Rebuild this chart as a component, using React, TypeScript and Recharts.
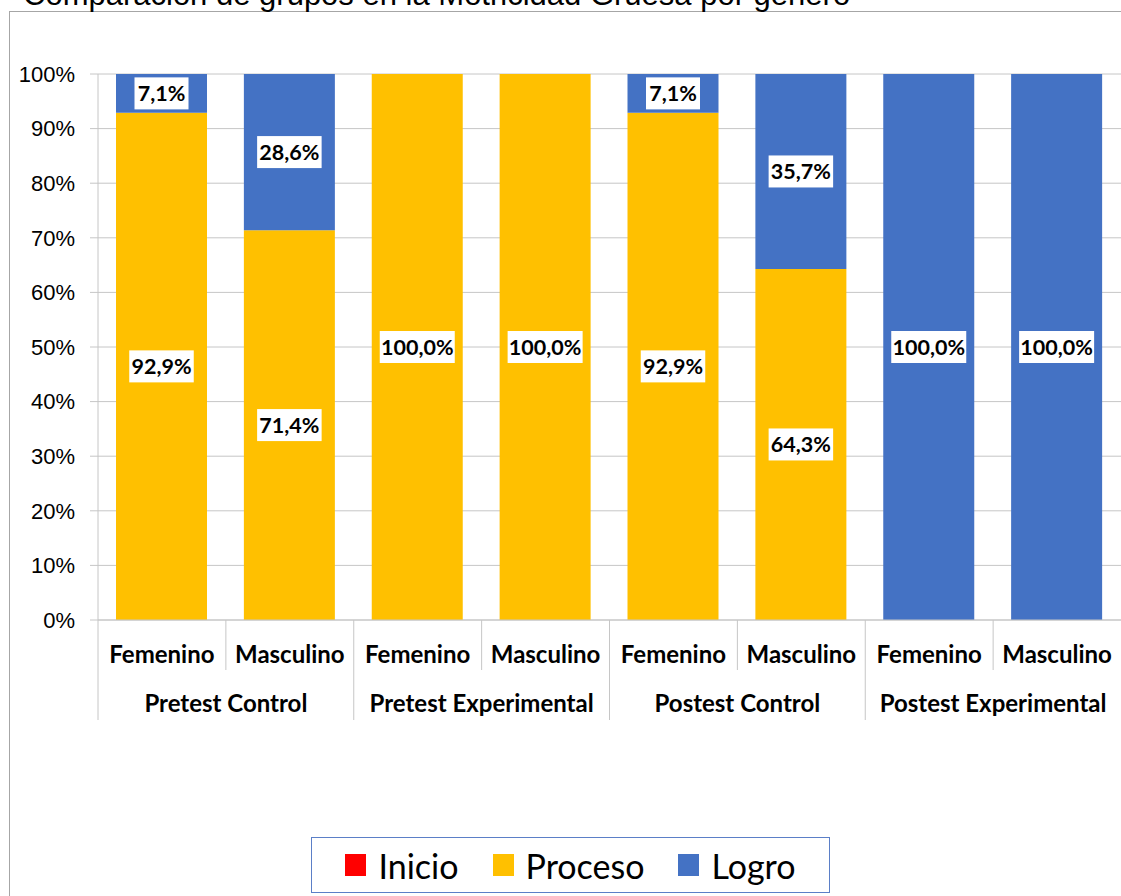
import { BarChart, Bar, XAxis, YAxis, CartesianGrid, LabelList } from "recharts";

const title = "Comparación de grupos en la Motricidad Gruesa por género";

const groups = ["Pretest Control", "Pretest Experimental", "Postest Control", "Postest Experimental"];
const genders = ["Femenino", "Masculino"];

// one value per bar, in order group x gender
const inicio = [0, 0, 0, 0, 0, 0, 0, 0];
const proceso = [92.9, 71.4, 100, 100, 92.9, 64.3, 0, 0];
const logro = [7.1, 28.6, 0, 0, 7.1, 35.7, 100, 100];

const yTicks = [0, 10, 20, 30, 40, 50, 60, 70, 80, 90, 100];

const series = [
  { key: "inicio", name: "Inicio", color: "#FF0000" },
  { key: "proceso", name: "Proceso", color: "#FFC000" },
  { key: "logro", name: "Logro", color: "#4472C4" },
];

const data = groups.flatMap((g, gi) =>
  genders.map((s, si) => {
    const i = gi * 2 + si;
    return { id: `${g}-${s}`, group: g, gender: s, inicio: inicio[i], proceso: proceso[i], logro: logro[i] };
  })
);

const W = 1121;
const H = 896;
const PLOT_LEFT = 98;
const BAND = (W - PLOT_LEFT) / data.length;
const LABEL_FONT = "Lato, 'Open Sans', sans-serif";
const GRID = "#c6c6c6";

function fmt(v: number) {
  return v.toFixed(1).replace(".", ",") + "%";
}

// white box data label in the middle of a segment
function SegmentLabel(props: any) {
  const { x, y, width, height, value } = props;
  if (!value) return null;
  const text = fmt(Number(value));
  const bw = text.length * 10.5 + 12;
  const bh = 32;
  const cx = x + width / 2;
  const cy = y + height / 2;
  return (
    <g>
      <rect x={cx - bw / 2} y={cy - bh / 2} width={bw} height={bh} fill="#fff" />
      <text
        x={cx}
        y={cy + 7.5}
        textAnchor="middle"
        fontFamily={LABEL_FONT}
        fontWeight="bold"
        fontSize={21.5}
        fill="#000"
      >
        {text}
      </text>
    </g>
  );
}

// two-level category axis: gender on top, group below
function GroupTick(props: any) {
  const { x, y, index } = props;
  const row = data[index];
  if (!row) return null;
  const half = BAND / 2;
  const first = index % 2 === 0;
  return (
    <g>
      <text
        x={x}
        y={y + 43}
        textAnchor="middle"
        fontFamily={LABEL_FONT}
        fontWeight="bold"
        fontSize={24}
        fill="#000"
      >
        {row.gender}
      </text>
      <line x1={x - half} x2={x - half} y1={y} y2={first ? y + 100 : y + 50} stroke={GRID} strokeWidth={1} />
      {first && (
        <text
          x={x + half}
          y={y + 92}
          textAnchor="middle"
          fontFamily={LABEL_FONT}
          fontWeight="bold"
          fontSize={24}
          fill="#000"
        >
          {row.group}
        </text>
      )}
    </g>
  );
}

export default function App() {
  return (
    <div style={{ position: "absolute", left: 0, top: 0, width: W, height: H, overflow: "hidden", background: "#fff" }}>
      <div
        style={{
          position: "absolute",
          left: 9,
          top: 11,
          width: W,
          height: H,
          border: "1px solid #a6a6a6",
          boxSizing: "border-box",
        }}
      />
      <svg width={W} height={30} style={{ position: "absolute", left: 0, top: 0 }}>
        <text x={23} y={5} fontFamily="'Liberation Sans', Arial, sans-serif" fontSize={31} fill="#000">
          {title}
        </text>
      </svg>
      <div style={{ position: "absolute", left: 0, top: 0 }}>
        <BarChart
          width={W}
          height={H}
          data={data}
          margin={{ top: 74, right: 0, bottom: 166, left: 10 }}
          barSize={91}
        >
          <CartesianGrid vertical={false} stroke={GRID} />
          <XAxis
            dataKey="id"
            height={110}
            interval={0}
            tick={<GroupTick />}
            tickLine={false}
            tickSize={0}
            tickMargin={0}
            axisLine={{ stroke: GRID }}
          />
          <YAxis
            width={88}
            domain={[0, 100]}
            ticks={yTicks}
            tickFormatter={(v) => `${v}%`}
            tick={{ fontFamily: "'Liberation Sans', Arial, sans-serif", fontSize: 22, fill: "#000" }}
            tickSize={8}
            tickMargin={15}
            tickLine={{ stroke: GRID }}
            axisLine={{ stroke: GRID }}
          />
          {series.map((s) => (
            <Bar key={s.key} dataKey={s.key} name={s.name} stackId="a" fill={s.color} isAnimationActive={false}>
              <LabelList dataKey={s.key} content={<SegmentLabel />} />
            </Bar>
          ))}
        </BarChart>
      </div>
      <div
        style={{
          position: "absolute",
          left: 311,
          top: 837,
          width: 519,
          height: 56,
          border: "1.5px solid #5b7fc7",
          boxSizing: "border-box",
          display: "flex",
          alignItems: "center",
          justifyContent: "center",
          gap: 34,
          fontFamily: LABEL_FONT,
          fontSize: 34,
          color: "#000",
        }}
      >
        {series.map((s) => (
          <div key={s.key} style={{ display: "flex", alignItems: "center", gap: 12 }}>
            <span style={{ width: 21, height: 22, background: s.color, display: "inline-block" }} />
            <span>{s.name}</span>
          </div>
        ))}
      </div>
    </div>
  );
}
